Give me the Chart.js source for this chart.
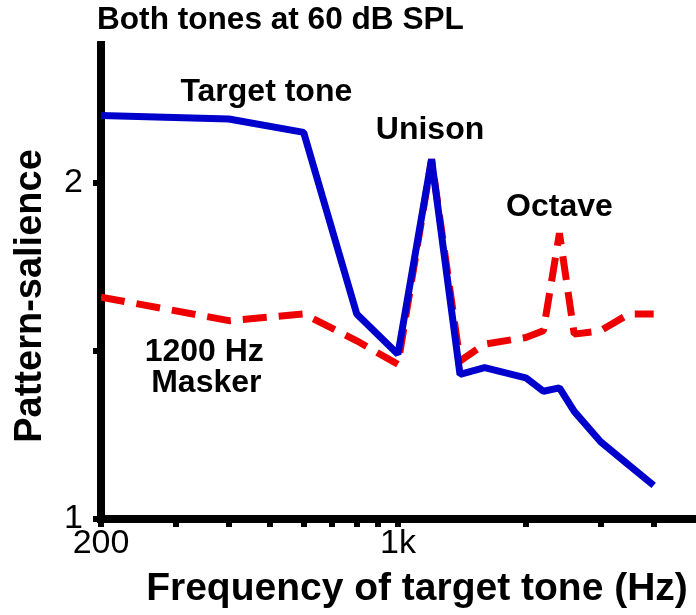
<!DOCTYPE html>
<html>
<head>
<meta charset="utf-8">
<title>Pattern-salience vs target tone frequency</title>
<script src="https://cdn.jsdelivr.net/npm/chart.js@4.4.1/dist/chart.umd.min.js"></script>
<style>
  html, body { margin: 0; padding: 0; background: #fff; }
  #wrap { width: 696px; height: 615px; }
</style>
</head>
<body>
<div id="wrap"><canvas id="salienceChart"></canvas></div>
<script>
// target tone frequency (Hz)
const freqs = [200, 400, 600, 800, 1000, 1200, 1400, 1600, 2000, 2200, 2400, 2600, 3000, 3500, 4000];
// pattern-salience of the target tone on its own
const targetTone = [2.20, 2.19, 2.15, 1.61, 1.49, 2.07, 1.43, 1.45, 1.42, 1.38, 1.39, 1.32, 1.23, 1.16, 1.10];
// pattern-salience with the 1200 Hz masker present
const withMasker = [1.66, 1.59, 1.61, 1.53, 1.46, 2.07, 1.47, 1.52, 1.54, 1.56, 1.85, 1.55, 1.56, 1.61, 1.61];

const xTicks = [200, 300, 400, 500, 600, 700, 800, 900, 1000, 2000, 3000, 4000];
const xTickLabels = { 200: "200", 1000: "1k" };
const yTicks = [1, 1.5, 2];
const yTickLabels = { 1: "1", 2: "2" };

// text placed in data coordinates (freq, salience)
const notes = [
  { text: "Target tone", freq: 490, value: 2.27 },
  { text: "Unison", freq: 1190, value: 2.158 },
  { text: "Octave", freq: 2400, value: 1.929 },
  { text: "1200 Hz", freq: 350, value: 1.497 },
  { text: "Masker", freq: 354, value: 1.405 },
];
const heading = "Both tones at 60 dB SPL";
const xTitle = "Frequency of target tone (Hz)";
const yTitle = "Pattern-salience";

const FONT = "'Liberation Sans', Arial, Helvetica, sans-serif";
Chart.defaults.font.family = FONT;
Chart.defaults.color = "#000";

const toPoints = (ys) => freqs.map((f, i) => ({ x: f, y: ys[i] }));

// heading, axis titles and the curve labels
const notesPlugin = {
  id: "notes",
  afterDraw(chart) {
    const { ctx, chartArea, scales } = chart;
    ctx.save();
    ctx.fillStyle = "#000";
    ctx.textBaseline = "middle";

    ctx.font = "bold 31.6px " + FONT;
    ctx.textAlign = "left";
    ctx.fillText(heading, chartArea.left - 4, 20);

    ctx.font = "bold 32px " + FONT;
    ctx.textAlign = "center";
    notes.forEach((n) => {
      ctx.fillText(n.text, scales.x.getPixelForValue(n.freq), scales.y.getPixelForValue(n.value));
    });

    ctx.font = "bold 39px " + FONT;
    ctx.fillText(xTitle, chartArea.left + 316, 589);

    ctx.translate(31, chartArea.top + 251);
    ctx.rotate(-Math.PI / 2);
    ctx.font = "bold 38px " + FONT;
    ctx.fillText(yTitle, 0, 0);
    ctx.restore();
  },
};

const axisLine = { display: true, width: 8, color: "#000" };
const tickMarks = {
  drawOnChartArea: false,
  drawTicks: true,
  tickLength: 8,
  tickWidth: 6,
  lineWidth: 6,
  tickColor: "#000",
  color: "#000",
};

new Chart(document.getElementById("salienceChart"), {
  type: "line",
  data: {
    datasets: [
      {
        label: "Target tone",
        data: toPoints(targetTone),
        borderColor: "#0000cc",
        borderWidth: 7,
        borderJoinStyle: "bevel",
        pointRadius: 0,
        tension: 0,
      },
      {
        label: "1200 Hz Masker",
        data: toPoints(withMasker),
        borderColor: "#ee0000",
        borderWidth: 7,
        borderDash: [24, 12],
        borderJoinStyle: "bevel",
        pointRadius: 0,
        tension: 0,
      },
    ],
  },
  options: {
    responsive: true,
    maintainAspectRatio: false,
    animation: false,
    layout: { padding: { top: 45, right: 3, left: 0, bottom: 0 } },
    plugins: {
      legend: { display: false },
      tooltip: { enabled: false },
    },
    scales: {
      x: {
        type: "logarithmic",
        min: 200,
        max: 4950,
        border: axisLine,
        grid: tickMarks,
        afterBuildTicks: (scale) => {
          scale.ticks = xTicks.map((v) => ({ value: v }));
        },
        afterFit: (scale) => {
          scale.height = 96;
        },
        ticks: {
          autoSkip: false,
          maxRotation: 0,
          padding: 0,
          font: { size: 34, lineHeight: 1 },
          callback: (v) => xTickLabels[v] || "",
        },
      },
      y: {
        type: "linear",
        min: 1,
        max: 2.41,
        border: axisLine,
        grid: tickMarks,
        afterBuildTicks: (scale) => {
          scale.ticks = yTicks.map((v) => ({ value: v }));
        },
        afterFit: (scale) => {
          scale.width = 101;
        },
        ticks: {
          autoSkip: false,
          padding: 10,
          font: { size: 34, lineHeight: 1 },
          callback: (v) => yTickLabels[v] || "",
        },
      },
    },
  },
  plugins: [notesPlugin],
});
</script>
</body>
</html>
